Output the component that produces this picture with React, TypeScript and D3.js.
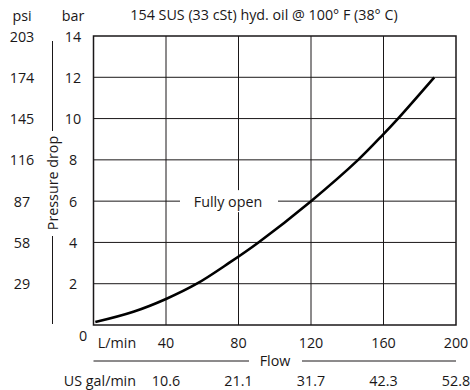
import React from "react";
import * as d3 from "d3";

const flowLmin = [1, 22, 40, 57, 75, 91, 120, 146, 160, 168, 188];
const pressureBar = [0.14, 0.64, 1.26, 2, 3.02, 4, 6, 8, 9.25, 10, 12];
const flowTicks = [40, 80, 120, 160, 200];
const galTicks = ["10.6", "21.1", "31.7", "42.3", "52.8"];
const barTicks = [2, 4, 6, 8, 10, 12, 14];
const psiTicks = ["29", "58", "87", "116", "145", "174", "203"];
const title = "154 SUS (33 cSt) hyd. oil @ 100° F (38° C)";

const W = 470, H = 390;
const FONT = "'Open Sans', 'Noto Sans', sans-serif";
const INK = "#1a1718";
const FS = 14.3;

export default function App() {
  const x = d3.scaleLinear().domain([0, 200]).range([93.5, 456]);
  const y = d3.scaleLinear().domain([0, 14]).range([325, 36]);
  const pts = flowLmin.map((f, i) => [f, pressureBar[i]] as [number, number]);
  const line = d3
    .line<[number, number]>()
    .x((d) => x(d[0]))
    .y((d) => y(d[1]))
    .curve(d3.curveCatmullRom.alpha(0.5));

  const labelY = y(6);

  return (
    <svg width={W} height={H} style={{ position: "absolute", left: 0, top: 0 }} fontFamily={FONT}>
      <rect width={W} height={H} fill="#fff" />
      {flowTicks.slice(0, 4).map((t) => (
        <line key={"v" + t} x1={x(t)} x2={x(t)} y1={y(0)} y2={y(14)} stroke={INK} strokeWidth={1} />
      ))}
      {barTicks.slice(0, 6).map((t) => (
        <line key={"h" + t} x1={x(0)} x2={x(200)} y1={y(t)} y2={y(t)} stroke={INK} strokeWidth={1} />
      ))}
      <rect x={x(0)} y={y(14)} width={x(200) - x(0)} height={y(0) - y(14)} fill="none" stroke={INK} strokeWidth={1.5} />
      <rect x={180} y={labelY - 11} width={98} height={22} fill="#fff" />
      <text x={228} y={labelY} textAnchor="middle" dominantBaseline="central" fontSize={FS} fill={INK}>
        Fully open
      </text>
      <path d={line(pts) || ""} fill="none" stroke="#000" strokeWidth={2.6} />
      <text x={264} y={14} textAnchor="middle" dominantBaseline="central" fontSize={FS} fill={INK}>
        {title}
      </text>
      <text x={22} y={15} textAnchor="middle" dominantBaseline="central" fontSize={FS} fill={INK}>psi</text>
      <text x={73} y={15} textAnchor="middle" dominantBaseline="central" fontSize={FS} fill={INK}>bar</text>
      {barTicks.map((t, i) => (
        <g key={"yl" + t}>
          <text x={73} y={y(t)} textAnchor="middle" dominantBaseline="central" fontSize={FS} fill={INK}>{t}</text>
          <text x={22} y={y(t)} textAnchor="middle" dominantBaseline="central" fontSize={FS} fill={INK}>{psiTicks[i]}</text>
        </g>
      ))}
      <line x1={52.5} x2={52.5} y1={41} y2={131} stroke={INK} strokeWidth={1} />
      <line x1={52.5} x2={52.5} y1={236} y2={324} stroke={INK} strokeWidth={1} />
      <text
        transform={`translate(52,183) rotate(-90)`}
        textAnchor="middle"
        dominantBaseline="central"
        fontSize={FS}
        fill={INK}
      >
        Pressure drop
      </text>
      <text x={83} y={335} textAnchor="middle" dominantBaseline="central" fontSize={FS} fill={INK}>0</text>
      <text x={117} y={342} textAnchor="middle" dominantBaseline="central" fontSize={FS} fill={INK}>L/min</text>
      {flowTicks.map((t, i) => (
        <g key={"xl" + t}>
          <text x={x(t)} y={342} textAnchor="middle" dominantBaseline="central" fontSize={FS} fill={INK}>{t}</text>
          <text x={x(t)} y={380} textAnchor="middle" dominantBaseline="central" fontSize={FS} fill={INK}>{galTicks[i]}</text>
        </g>
      ))}
      <line x1={x(0)} x2={249} y1={361} y2={361} stroke={INK} strokeWidth={1} />
      <line x1={302} x2={x(200)} y1={361} y2={361} stroke={INK} strokeWidth={1} />
      <text x={275} y={360} textAnchor="middle" dominantBaseline="central" fontSize={FS} fill={INK}>Flow</text>
      <text x={136} y={380} textAnchor="end" dominantBaseline="central" fontSize={FS} fill={INK}>US gal/min</text>
    </svg>
  );
}
